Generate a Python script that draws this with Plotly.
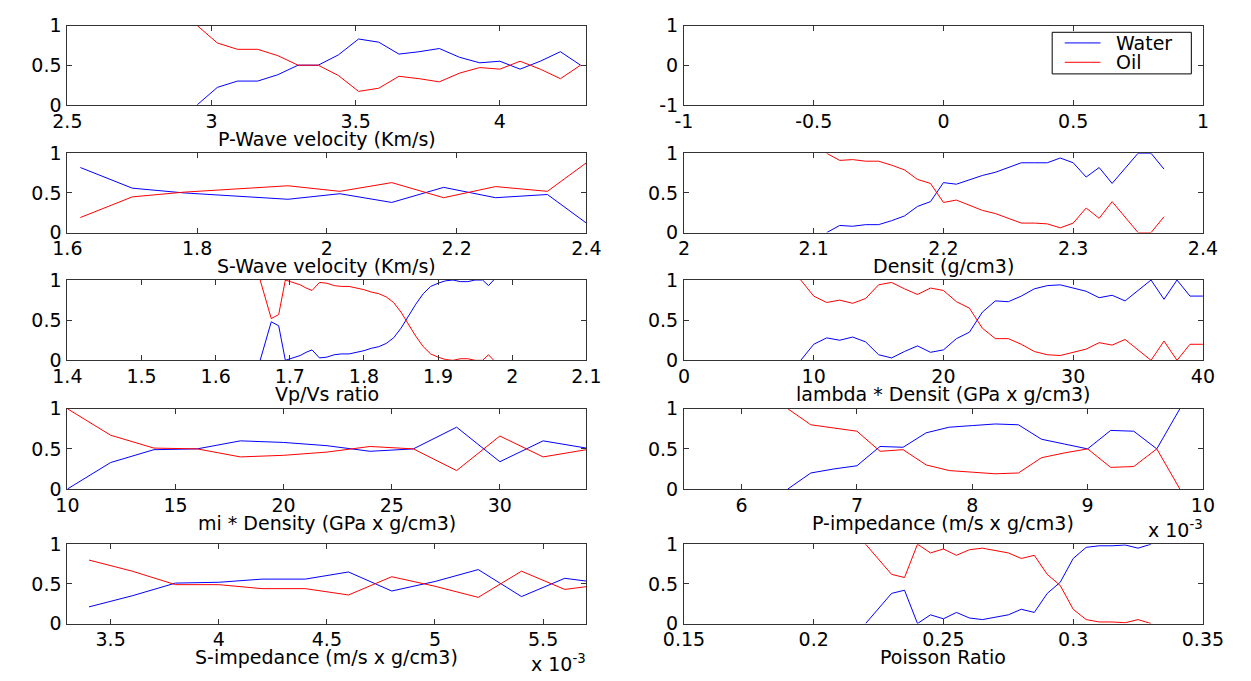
import plotly.graph_objects as go

# ---------------- data: fraction of Water / Oil per bin ----------------
# P-wave velocity (Km/s)
vp_x = [2.95, 3.02, 3.09, 3.16, 3.23, 3.30, 3.37, 3.44, 3.51, 3.58,
        3.65, 3.72, 3.79, 3.86, 3.93, 4.00, 4.07, 4.14, 4.21, 4.28]
vp_water = [0.00, 0.22, 0.30, 0.30, 0.38, 0.50, 0.50, 0.63, 0.83, 0.79,
            0.64, 0.67, 0.71, 0.60, 0.53, 0.55, 0.45, 0.55, 0.67, 0.50]
vp_oil = [1.00, 0.78, 0.70, 0.70, 0.62, 0.50, 0.50, 0.37, 0.17, 0.21,
          0.36, 0.33, 0.29, 0.40, 0.47, 0.45, 0.55, 0.45, 0.33, 0.50]

# S-wave velocity (Km/s)
vs_x = [1.62, 1.70, 1.78, 1.86, 1.94, 2.02, 2.10, 2.18, 2.26, 2.34, 2.42]
vs_water = [0.82, 0.56, 0.50, 0.46, 0.42, 0.49, 0.38, 0.57, 0.44, 0.48, 0.00]
vs_oil = [0.19, 0.45, 0.51, 0.55, 0.59, 0.52, 0.63, 0.44, 0.58, 0.52, 1.00]

# Vp/Vs ratio
vpvs_x = [1.660, 1.675, 1.685, 1.694, 1.704, 1.714, 1.722, 1.730, 1.740, 1.750,
          1.760, 1.770, 1.780, 1.790, 1.800, 1.810, 1.820, 1.830, 1.840, 1.850,
          1.860, 1.870, 1.880, 1.890, 1.900, 1.910, 1.920, 1.930, 1.940, 1.950,
          1.960, 1.968, 1.975]
vpvs_water = [0.00, 0.48, 0.43, 0.00, 0.03, 0.06, 0.10, 0.13, 0.03, 0.04,
              0.07, 0.08, 0.08, 0.10, 0.12, 0.15, 0.17, 0.21, 0.28, 0.40,
              0.55, 0.70, 0.83, 0.92, 0.96, 0.99, 1.00, 0.98, 0.98, 1.00,
              1.00, 0.93, 1.00]
vpvs_oil = [1.00, 0.52, 0.57, 1.00, 0.97, 0.94, 0.90, 0.87, 0.97, 0.96,
            0.93, 0.92, 0.92, 0.90, 0.88, 0.85, 0.83, 0.79, 0.72, 0.60,
            0.45, 0.30, 0.17, 0.08, 0.04, 0.01, 0.00, 0.02, 0.02, 0.00,
            0.00, 0.07, 0.00]

# mi * Density (GPa x g/cm3)
mu_x = [10, 12, 14, 16, 18, 20, 22, 24, 26, 28, 30, 32, 34]
mu_water = [0.00, 0.33, 0.49, 0.50, 0.60, 0.58, 0.54, 0.47, 0.50, 0.77, 0.34, 0.60, 0.51]
mu_oil = [1.00, 0.67, 0.51, 0.50, 0.40, 0.42, 0.46, 0.53, 0.50, 0.23, 0.66, 0.40, 0.49]

# S-impedance (m/s x g/cm3), x 10^-3
si_x = [3.4, 3.6, 3.8, 4.0, 4.2, 4.4, 4.6, 4.8, 5.0, 5.2, 5.4, 5.6, 5.8]
si_water = [0.21, 0.35, 0.51, 0.52, 0.56, 0.56, 0.65, 0.41, 0.53, 0.68, 0.34, 0.57, 0.50]
si_oil = [0.80, 0.66, 0.49, 0.49, 0.44, 0.44, 0.36, 0.59, 0.47, 0.33, 0.66, 0.43, 0.50]

# Densit (g/cm3)
rho_x = [2.11, 2.12, 2.13, 2.14, 2.15, 2.16, 2.17, 2.18, 2.19, 2.20,
         2.21, 2.22, 2.23, 2.24, 2.25, 2.26, 2.27, 2.28, 2.29, 2.30,
         2.31, 2.32, 2.33, 2.34, 2.35, 2.36, 2.37]
rho_water = [0.00, 0.09, 0.08, 0.10, 0.10, 0.15, 0.21, 0.33, 0.39, 0.63,
             0.61, 0.67, 0.72, 0.76, 0.82, 0.88, 0.88, 0.88, 0.94, 0.88,
             0.70, 0.82, 0.62, 0.81, 1.00, 1.00, 0.80]
rho_oil = [1.00, 0.91, 0.92, 0.90, 0.90, 0.85, 0.79, 0.67, 0.62, 0.38,
           0.41, 0.34, 0.28, 0.24, 0.18, 0.12, 0.12, 0.11, 0.06, 0.12,
           0.31, 0.18, 0.39, 0.19, 0.00, 0.00, 0.20]

# lambda * Densit (GPa x g/cm3)
lam_x = [9, 10, 11, 12, 13, 14, 15, 16, 17, 18, 19, 20, 21, 22, 23, 24,
         25, 26, 27, 28, 29, 30, 31, 32, 33, 34, 35, 36, 37, 38, 39, 40]
lam_water = [0.00, 0.20, 0.28, 0.25, 0.29, 0.23, 0.07, 0.03, 0.11, 0.18, 0.10, 0.13, 0.27, 0.35, 0.60, 0.74,
             0.73, 0.80, 0.89, 0.93, 0.94, 0.90, 0.86, 0.78, 0.81, 0.74, 0.87, 1.00, 0.76, 1.00, 0.80, 0.80]
lam_oil = [1.00, 0.80, 0.72, 0.75, 0.71, 0.77, 0.94, 0.97, 0.89, 0.82, 0.90, 0.87, 0.73, 0.65, 0.40, 0.27,
           0.27, 0.20, 0.11, 0.07, 0.06, 0.10, 0.14, 0.22, 0.19, 0.26, 0.13, 0.00, 0.24, 0.00, 0.20, 0.20]

# P-impedance (m/s x g/cm3), x 10^-3
ip_x = [6.4, 6.6, 6.8, 7.0, 7.2, 7.4, 7.6, 7.8, 8.0, 8.2, 8.4, 8.6, 8.8, 9.0, 9.2, 9.4, 9.6, 9.8]
ip_water = [0.00, 0.20, 0.25, 0.29, 0.53, 0.52, 0.70, 0.77, 0.79, 0.81, 0.80, 0.62, 0.56, 0.50, 0.73, 0.72, 0.50, 1.00]
ip_oil = [1.00, 0.80, 0.76, 0.72, 0.47, 0.49, 0.30, 0.23, 0.21, 0.19, 0.20, 0.39, 0.45, 0.50, 0.27, 0.28, 0.50, 0.00]

# Poisson ratio
pr_x = [0.220, 0.230, 0.235, 0.240, 0.245, 0.250, 0.255, 0.260, 0.265, 0.270, 0.275,
        0.280, 0.285, 0.290, 0.295, 0.300, 0.305, 0.310, 0.315, 0.320, 0.325, 0.330]
pr_water = [0.00, 0.38, 0.42, 0.00, 0.11, 0.06, 0.14, 0.07, 0.05, 0.08, 0.11,
            0.18, 0.14, 0.38, 0.52, 0.82, 0.96, 0.98, 0.98, 0.99, 0.95, 1.00]
pr_oil = [1.00, 0.62, 0.58, 1.00, 0.89, 0.94, 0.86, 0.93, 0.95, 0.92, 0.89,
          0.82, 0.86, 0.62, 0.48, 0.18, 0.05, 0.02, 0.02, 0.01, 0.05, 0.00]

# tick values / labels
frac_ticks = [0, 0.5, 1]
frac_labels = ["0", "0.5", "1"]
sym_ticks = [-1, 0, 1]
sym_labels = ["-1", "0", "1"]

panels = [
    # left column
    dict(col=0, row=0, x=vp_x, water=vp_water, oil=vp_oil, xr=[2.5, 4.3],
         xt=[2.5, 3, 3.5, 4], xl=["2.5", "3", "3.5", "4"], title="P-Wave velocity (Km/s)"),
    dict(col=0, row=1, x=vs_x, water=vs_water, oil=vs_oil, xr=[1.6, 2.4],
         xt=[1.6, 1.8, 2.0, 2.2, 2.4], xl=["1.6", "1.8", "2", "2.2", "2.4"], title="S-Wave velocity (Km/s)"),
    dict(col=0, row=2, x=vpvs_x, water=vpvs_water, oil=vpvs_oil, xr=[1.4, 2.1],
         xt=[1.4, 1.5, 1.6, 1.7, 1.8, 1.9, 2.0, 2.1],
         xl=["1.4", "1.5", "1.6", "1.7", "1.8", "1.9", "2", "2.1"], title="Vp/Vs ratio"),
    dict(col=0, row=3, x=mu_x, water=mu_water, oil=mu_oil, xr=[10, 34],
         xt=[10, 15, 20, 25, 30], xl=["10", "15", "20", "25", "30"], title="mi * Density (GPa x g/cm3)"),
    dict(col=0, row=4, x=si_x, water=si_water, oil=si_oil, xr=[3.3, 5.7],
         xt=[3.5, 4, 4.5, 5, 5.5], xl=["3.5", "4", "4.5", "5", "5.5"], title="S-impedance (m/s x g/cm3)",
         scale="x 10<sup>-3</sup>"),
    # right column
    dict(col=1, row=0, x=[], water=[], oil=[], xr=[-1, 1],
         xt=[-1, -0.5, 0, 0.5, 1], xl=["-1", "-0.5", "0", "0.5", "1"], title=None,
         yr=[-1, 1], yt=sym_ticks, yl=sym_labels),
    dict(col=1, row=1, x=rho_x, water=rho_water, oil=rho_oil, xr=[2.0, 2.4],
         xt=[2.0, 2.1, 2.2, 2.3, 2.4], xl=["2", "2.1", "2.2", "2.3", "2.4"], title="Densit (g/cm3)"),
    dict(col=1, row=2, x=lam_x, water=lam_water, oil=lam_oil, xr=[0, 40],
         xt=[0, 10, 20, 30, 40], xl=["0", "10", "20", "30", "40"], title="lambda * Densit (GPa x g/cm3)"),
    dict(col=1, row=3, x=ip_x, water=ip_water, oil=ip_oil, xr=[5.5, 10],
         xt=[6, 7, 8, 9, 10], xl=["6", "7", "8", "9", "10"], title="P-impedance (m/s x g/cm3)",
         scale="x 10<sup>-3</sup>"),
    dict(col=1, row=4, x=pr_x, water=pr_water, oil=pr_oil, xr=[0.15, 0.35],
         xt=[0.15, 0.2, 0.25, 0.3, 0.35], xl=["0.15", "0.2", "0.25", "0.3", "0.35"], title="Poisson Ratio"),
]

# ---------------- page geometry (pixels) ----------------
FIG_W, FIG_H = 1251, 681
COLS = [(48, 585), (686, 1223)]
ROWS = [(15, 97), (147, 229), (278, 361), (411, 494), (551, 633)]
TITLE_GAP = 35
SCALE_GAP = 41
FONT = dict(family="DejaVu Sans, Arial, sans-serif", size=19, color="black")
WATER_COLOR = "#0000ff"
OIL_COLOR = "#ff0000"
AXIS_COLOR = "#333333"


def fx(p):
    return p / FIG_W


def fy(p):
    return 1 - p / FIG_H


fig = go.Figure()
layout = dict(
    width=FIG_W, height=FIG_H,
    margin=dict(l=0, r=0, t=0, b=0),
    paper_bgcolor="white", plot_bgcolor="white",
    showlegend=False,
    font=FONT,
)
annotations = []
shapes = []

for k, p in enumerate(panels, start=1):
    xa, ya = f"x{k}", f"y{k}"
    c0, c1 = COLS[p["col"]]
    r0, r1 = ROWS[p["row"]]
    axis_common = dict(
        showgrid=False, zeroline=False, showline=True, linecolor=AXIS_COLOR, linewidth=1,
        mirror="allticks", ticks="inside", ticklen=5, tickcolor=AXIS_COLOR, tickwidth=1,
        tickfont=FONT, tickmode="array", fixedrange=True,
    )
    layout[f"xaxis{k}"] = dict(
        axis_common, domain=[fx(c0), fx(c1)], anchor=ya, range=p["xr"],
        tickvals=p["xt"], ticktext=p["xl"], ticklabelstandoff=-1,
    )
    layout[f"yaxis{k}"] = dict(
        axis_common, domain=[fy(r1), fy(r0)], anchor=xa, range=p.get("yr", [0, 1]),
        tickvals=p.get("yt", frac_ticks), ticktext=p.get("yl", frac_labels), ticklabelstandoff=1,
    )
    fig.add_trace(go.Scatter(x=p["x"], y=p["water"], mode="lines", name="Water",
                             line=dict(color=WATER_COLOR, width=1), xaxis=xa, yaxis=ya,
                             hoverinfo="skip"))
    fig.add_trace(go.Scatter(x=p["x"], y=p["oil"], mode="lines", name="Oil",
                             line=dict(color=OIL_COLOR, width=1), xaxis=xa, yaxis=ya,
                             hoverinfo="skip"))
    if p["title"]:
        annotations.append(dict(
            text=p["title"], xref="paper", yref="paper",
            x=fx((c0 + c1) / 2), y=fy(r1 + TITLE_GAP), xanchor="center", yanchor="middle",
            showarrow=False, font=FONT,
        ))
    if p.get("scale"):
        # axis multiplier written under the right end of the x axis
        annotations.append(dict(
            text=p["scale"], xref="paper", yref="paper",
            x=fx(c1 + 2), y=fy(r1 + SCALE_GAP), xanchor="right", yanchor="middle",
            showarrow=False, font=FONT,
        ))

# legend box drawn inside the empty top-right axes
LEG = dict(x0=1067, x1=1211, y0=22, y1=65)
shapes.append(dict(type="rect", xref="paper", yref="paper",
                   x0=fx(LEG["x0"]), x1=fx(LEG["x1"]), y0=fy(LEG["y1"]), y1=fy(LEG["y0"]),
                   line=dict(color="black", width=1), fillcolor="white", layer="above"))
for label, color, yc in [("Water", WATER_COLOR, 33), ("Oil", OIL_COLOR, 53)]:
    shapes.append(dict(type="line", xref="paper", yref="paper",
                       x0=fx(1080), x1=fx(1117), y0=fy(yc), y1=fy(yc),
                       line=dict(color=color, width=1), layer="above"))
    annotations.append(dict(text=label, xref="paper", yref="paper",
                            x=fx(1131), y=fy(yc), xanchor="left", yanchor="middle",
                            showarrow=False, font=FONT))

layout["annotations"] = annotations
layout["shapes"] = shapes
fig.update_layout(**layout)

fig.write_html("out.html")
